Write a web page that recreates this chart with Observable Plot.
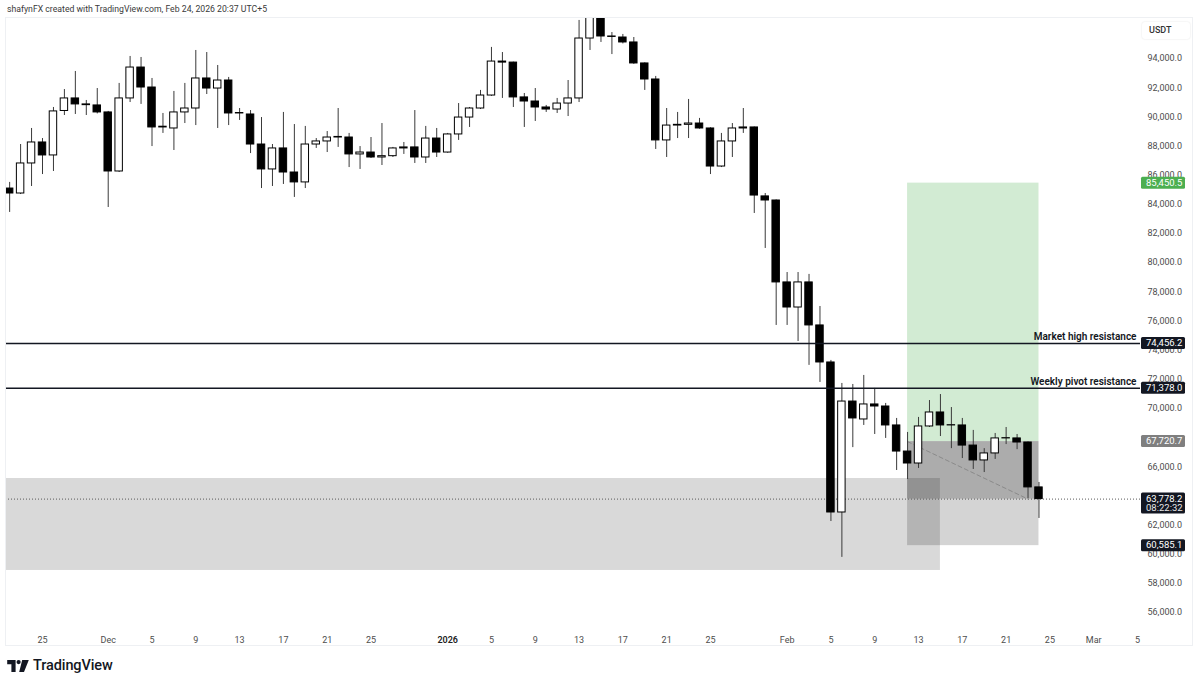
<!DOCTYPE html>
<html>
<head>
<meta charset="utf-8">
<script src="https://cdn.jsdelivr.net/npm/d3@7"></script>
<script src="https://cdn.jsdelivr.net/npm/@observablehq/plot@0.6"></script>
<style>
  html, body { margin: 0; padding: 0; background: #fff; }
  #wrap { position: relative; width: 1200px; height: 685px; overflow: hidden; font-family: Roboto, "Noto Sans", sans-serif; }
  #chart { position: absolute; left: 0; top: 0; }
  #pane { position: absolute; left: 5px; top: 17px; width: 1188px; height: 629px; border: 1px solid #eef0f3; box-sizing: border-box; pointer-events: none; }
  #header { position: absolute; left: 7px; top: 4px; font-size: 8.7px; color: #3a3a3a; white-space: nowrap; }
  #usdt { position: absolute; left: 1142px; top: 22px; width: 48px; height: 17px; border-radius: 3px; background: #fff;
          box-shadow: 0 0 2px rgba(0,0,0,0.12); font-size: 9px; color: #333; font-weight: 500; line-height: 17px; text-indent: 7px; }
  #logo { position: absolute; left: 7px; top: 657px; display: flex; align-items: center; gap: 4px; }
  #logo span { font-size: 14.5px; font-weight: 500; color: #131722; letter-spacing: -0.1px; }
</style>
</head>
<body>
<div id="wrap">
  <div id="chart"></div>
  <div id="pane"></div>
  <div id="header">shafynFX created with TradingView.com, Feb 24, 2026 20:37 UTC+5</div>
  <div id="usdt">USDT</div>
  <div id="logo">
    <svg width="22" height="12" viewBox="0 0 36 20">
      <path d="M0 0 H14 V20 H7 V7 H0 Z" fill="#131722"/>
      <circle cx="19" cy="3.5" r="3.5" fill="#131722"/>
      <path d="M25 0 H36 L28 20 H20 Z" fill="#131722"/>
    </svg>
    <span>TradingView</span>
  </div>
</div>
<script>
// ---------- data (BTC/USDT daily candles) ----------
const dates = [
  "2025-11-22","2025-11-23","2025-11-24","2025-11-25","2025-11-26","2025-11-27","2025-11-28","2025-11-29","2025-11-30",
  "2025-12-01","2025-12-02","2025-12-03","2025-12-04","2025-12-05","2025-12-06","2025-12-07","2025-12-08","2025-12-09","2025-12-10",
  "2025-12-11","2025-12-12","2025-12-13","2025-12-14","2025-12-15","2025-12-16","2025-12-17","2025-12-18","2025-12-19","2025-12-20",
  "2025-12-21","2025-12-22","2025-12-23","2025-12-24","2025-12-25","2025-12-26","2025-12-27","2025-12-28","2025-12-29","2025-12-30","2025-12-31",
  "2026-01-01","2026-01-02","2026-01-03","2026-01-04","2026-01-05","2026-01-06","2026-01-07","2026-01-08","2026-01-09","2026-01-10",
  "2026-01-11","2026-01-12","2026-01-13","2026-01-14","2026-01-15","2026-01-16","2026-01-17","2026-01-18","2026-01-19","2026-01-20",
  "2026-01-21","2026-01-22","2026-01-23","2026-01-24","2026-01-25","2026-01-26","2026-01-27","2026-01-28","2026-01-29","2026-01-30","2026-01-31",
  "2026-02-01","2026-02-02","2026-02-03","2026-02-04","2026-02-05","2026-02-06","2026-02-07","2026-02-08","2026-02-09","2026-02-10",
  "2026-02-11","2026-02-12","2026-02-13","2026-02-14","2026-02-15","2026-02-16","2026-02-17","2026-02-18","2026-02-19","2026-02-20",
  "2026-02-21","2026-02-22","2026-02-23","2026-02-24"
];
const opens = [
  85080, 84740, 86800, 88240, 87350, 90400, 91260, 90850, 90780,
  90300, 86250, 91260, 93380, 92010, 89270, 89200, 90300, 90570, 92630,
  91940, 92490, 90230, 90160, 88100, 86390, 87830, 86180, 85500, 88100,
  88310, 88580, 88580, 87420, 87550, 87210, 87300, 87830, 87900, 87210, 88510,
  87550, 88790, 89950, 90570, 91460, 93790, 93720, 91330, 91050, 90640,
  90500, 90910, 91260, 95370, 97000, 95510, 95440, 95100, 93660, 92560,
  88380, 89400, 89450, 89540, 89200, 86590, 88310, 89200, 89270, 84540, 84260,
  78640, 76920, 78640, 75690, 73150, 62860, 70470, 69240, 70270, 70130,
  68830, 67040, 66220, 68760, 69720, 68830, 68830, 67450, 66430, 66910,
  67940, 67940, 67660, 64580
];
const highs = [
  85500, 88100, 89200, 88510, 90640, 91870, 93110, 91120, 91940,
  90370, 92290, 94140, 94070, 92630, 90230, 91740, 92290, 94550, 94410,
  93520, 92700, 90570, 90430, 89950, 88100, 90300, 89470, 89340, 88510,
  88990, 90570, 88860, 87960, 88580, 89540, 87900, 88240, 90430, 89340, 89200,
  88860, 90910, 90640, 91810, 94760, 94410, 93750, 91600, 91940, 90780,
  91260, 92490, 96610, 97900, 97250, 95780, 95650, 95440, 93700, 92770,
  90570, 90300, 91190, 89890, 89250, 88860, 89540, 90570, 89300, 84740, 84300,
  79320, 79320, 79190, 76990, 73290, 71710, 71640, 72260, 71370, 70340,
  69310, 68350, 69380, 70540, 70950, 70060, 69310, 68490, 67240, 68280,
  68690, 68210, 67700, 64920
];
const lows = [
  83440, 84670, 85220, 86040, 86250, 90090, 90160, 90090, 90200,
  83780, 86180, 90980, 90850, 87960, 88860, 87690, 89540, 89400, 91530,
  89200, 89400, 89750, 87480, 85080, 85220, 85360, 84470, 85080, 87830,
  87550, 87900, 86520, 86390, 87140, 86660, 87210, 87420, 86800, 86800, 87210,
  87500, 88380, 89270, 90500, 91400, 91260, 90640, 89270, 89680, 90300,
  90230, 90020, 90980, 94550, 95100, 94270, 95000, 93600, 91810, 87760,
  87210, 88510, 88510, 89150, 86040, 86520, 87210, 88860, 83370, 80970, 75690,
  75690, 74590, 72950, 71780, 62240, 59780, 67310, 68830, 68210, 67940,
  65740, 65120, 65880, 68690, 68070, 67240, 66560, 65810, 65600, 66500,
  67520, 67170, 63820, 62450
];
const closes = [
  84740, 86800, 88240, 87350, 90370, 91260, 90850, 90800, 90300,
  86250, 91260, 93380, 92010, 89270, 89320, 90300, 90570, 92630, 91940,
  92490, 90230, 90260, 88100, 86390, 87830, 86180, 85500, 88100, 88310,
  88580, 88620, 87420, 87550, 87210, 87300, 87830, 87900, 87210, 88510, 87550,
  88790, 89950, 90570, 91460, 93790, 93720, 91330, 91050, 90640, 90500,
  90910, 91260, 95370, 97000, 95510, 95480, 95100, 93660, 92560, 88380,
  89400, 89450, 89540, 89200, 86590, 88310, 89200, 89270, 84600, 84260, 78640,
  76920, 78640, 75690, 73150, 62860, 70470, 69310, 70270, 70130, 68830,
  67040, 66220, 68760, 69720, 68830, 68850, 67450, 66430, 66910, 67940,
  67960, 67660, 64580, 63778.2
];

// horizontal levels drawn on the chart
const levelNames = ["Market high resistance", "Weekly pivot resistance"];
const levelPrices = [74456.2, 71378.0];

// demand zone (light grey box)
const demandStart = ["2025-11-10"];
const demandEnd = ["2026-02-15"];
const demandLow = [58882];
const demandHigh = [65192];

// long position tool
const positionStart = ["2026-02-12"];
const positionEnd = ["2026-02-24"];
const targetPrice = [85450.5];
const entryPrice = [67720.7];
const stopPrice = [60585.1];
const lastPrice = [63778.2];
const countdown = "08:22:32";
const pathDates = ["2026-02-12", "2026-02-23"];
const pathPrices = [67720.7, 63778.2];

// axis ticks (64,000 and 68,000 sit fully under the price badges in the reference)
const yTicks = [56000, 58000, 60000, 62000, 66000, 70000, 72000, 74000, 76000, 78000,
                80000, 82000, 84000, 86000, 88000, 90000, 92000, 94000];
const xTickDates = ["2025-11-25","2025-12-01","2025-12-05","2025-12-09","2025-12-13","2025-12-17","2025-12-21","2025-12-25",
  "2026-01-01","2026-01-05","2026-01-09","2026-01-13","2026-01-17","2026-01-21","2026-01-25",
  "2026-02-01","2026-02-05","2026-02-09","2026-02-13","2026-02-17","2026-02-21","2026-02-25","2026-03-01","2026-03-05"];
const xTickLabels = ["25","Dec","5","9","13","17","21","25","2026","5","9","13","17","21","25",
  "Feb","5","9","13","17","21","25","Mar","5"];

// ---------- build ----------
const D = s => new Date(s + "T00:00:00Z");
const DAY = 864e5;
const HALF = 0.34 * DAY;

const candles = dates.map((d, i) => ({date: D(d), open: opens[i], high: highs[i], low: lows[i], close: closes[i]}));
const levels = levelNames.map((n, i) => ({name: n, price: levelPrices[i]}));
const demand = demandStart.map((s, i) => ({x1: D(s), x2: D(demandEnd[i]), y1: demandLow[i], y2: demandHigh[i]}));
const pos = positionStart.map((s, i) => ({x1: D(s), x2: D(positionEnd[i]), target: targetPrice[i], entry: entryPrice[i], stop: stopPrice[i], last: lastPrice[i]}));
const path = pathDates.map((d, i) => ({date: D(d), price: pathPrices[i]}));
const tickMap = new Map(xTickDates.map((d, i) => [+D(d), xTickLabels[i]]));

const xDomain = [new Date(Date.UTC(2025, 10, 21, 14, 54)), new Date(Date.UTC(2026, 2, 5, 6, 30))];
const yDomain = [54971, 96812];

const chart = Plot.plot({
  width: 1200,
  height: 685,
  marginTop: 17,
  marginBottom: 58,
  marginLeft: 5,
  marginRight: 60,
  style: {fontFamily: "Roboto, 'Noto Sans', sans-serif", fontSize: "9px", color: "#4d4d4d", background: "transparent", overflow: "visible"},
  x: {type: "utc", domain: xDomain, label: null},
  y: {domain: yDomain, label: null},
  color: {type: "identity"},
  marks: [
    // demand zone
    Plot.rect(demand, {x1: "x1", x2: "x2", y1: "y1", y2: "y2", fill: "#000", fillOpacity: 0.15, clip: true}),
    // target (green)
    Plot.rect(pos, {x1: "x1", x2: "x2", y1: "entry", y2: "target", fill: "#4caf50", fillOpacity: 0.25}),
    // stop (grey)
    Plot.rect(pos, {x1: "x1", x2: "x2", y1: "stop", y2: "entry", fill: "#000", fillOpacity: 0.17}),
    // open-loss progress band
    Plot.rect(pos, {x1: "x1", x2: "x2", y1: "last", y2: "entry", fill: "#000", fillOpacity: 0.19}),
    // dashed path
    Plot.line(path, {x: "date", y: "price", stroke: "#8a8a8a", strokeWidth: 1, strokeDasharray: "4,3"}),
    // current price dotted line
    Plot.ruleY(lastPrice, {stroke: "#5a5a5a", strokeWidth: 1, strokeDasharray: "1,2"}),
    // wicks
    Plot.ruleX(candles, {x: "date", y1: "low", y2: "high", stroke: "#3a3a3a", strokeWidth: 1, clip: true}),
    // bodies
    Plot.rect(candles, {
      x1: d => new Date(+d.date - HALF), x2: d => new Date(+d.date + HALF),
      y1: "open", y2: "close",
      fill: d => d.close >= d.open ? "#ffffff" : "#000000",
      stroke: "#000", strokeWidth: 1, clip: true
    }),
    // resistance levels
    Plot.ruleY(levels, {y: "price", stroke: "#131722", strokeWidth: 1.5}),
    Plot.text(levels, {y: "price", text: "name", frameAnchor: "right", textAnchor: "end", dx: -4, dy: -7,
      fontSize: 10, fontWeight: 600, fill: "#131722"}),
    // axes
    Plot.axisY({anchor: "right", ticks: yTicks, tickSize: 0, tickPadding: 7, tickFormat: d3.format(",.1f")}),
    Plot.axisX({ticks: xTickDates.map(D), tickSize: 0, tickPadding: 9, tickFormat: d => tickMap.get(+d)})
  ]
});

document.getElementById("chart").appendChild(chart);

// bold year label
d3.select(chart).selectAll("text").filter(function() { return this.textContent === "2026"; })
  .attr("font-weight", 600).attr("fill", "#222");

// price badges on the right scale
const ys = chart.scale("y");
const fmt = d3.format(",.1f");
const badges = [
  {price: targetPrice[0], bg: "#4caf50"},
  {price: levelPrices[0], bg: "#131722"},
  {price: levelPrices[1], bg: "#131722"},
  {price: entryPrice[0], bg: "#7f7f7f"},
  {price: lastPrice[0], bg: "#131722", sub: countdown},
  {price: stopPrice[0], bg: "#131722"}
];
const g = d3.select(chart).append("g")
  .attr("font-size", 9.5).attr("font-family", "Roboto, sans-serif").attr("text-anchor", "start");
badges.forEach(b => {
  const yy = ys.apply(b.price);
  const h = b.sub ? 21 : 12;
  g.append("rect").attr("x", 1141).attr("y", yy - 6).attr("width", 44).attr("height", h).attr("rx", 1.5).attr("fill", b.bg);
  g.append("text").attr("x", 1146).attr("y", yy).attr("dy", "0.35em").attr("text-anchor", "start").attr("fill", "#fff").text(fmt(b.price));
  if (b.sub) g.append("text").attr("x", 1146).attr("y", yy + 9.5).attr("dy", "0.35em").attr("text-anchor", "start").attr("fill", "#e6e6e6").text(b.sub);
});
</script>
</body>
</html>
